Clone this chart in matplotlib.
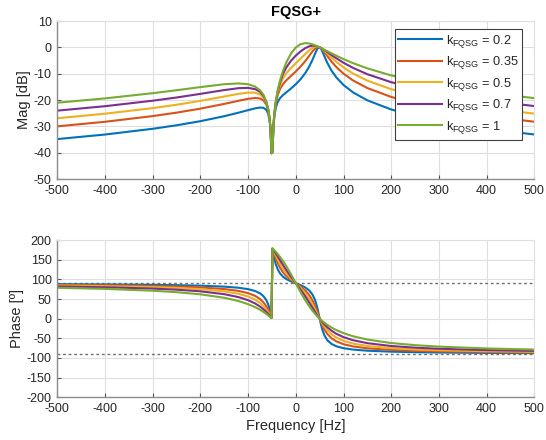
import matplotlib
matplotlib.use('Agg')
import matplotlib.pyplot as plt

plt.rcParams['font.family'] = ['Liberation Sans', 'DejaVu Sans']
plt.rcParams['mathtext.fontset'] = 'custom'
plt.rcParams['mathtext.rm'] = 'Liberation Sans'
plt.rcParams['mathtext.it'] = 'Liberation Sans'
plt.rcParams['axes.unicode_minus'] = False

# frequency points [Hz]
Freq = [-500, -400, -300, -250, -200, -150, -120, -100, -85, -75, -68, -62, -58, -55, -53, -51,
        -49, -47, -45, -42, -38, -33, -27, -20, -10, 0, 10, 20, 28, 35, 40, 44, 47, 49, 50,
        51, 53, 56, 60, 66, 75, 85, 100, 120, 150, 200, 250, 300, 400, 500]

Kvals = ['0.2', '0.35', '0.5', '0.7', '1']

# magnitude [dB]
Mag02 = [-34.81, -33.08, -30.90, -29.57, -28.01, -26.12, -24.78, -23.82, -23.13, -22.84, -22.93, -23.66,
         -25.15, -27.74, -31.32, -40.22, -39.87, -30.32, -26.17, -22.90, -20.70, -19.24, -18.12, -17.06,
         -15.59, -13.98, -12.07, -9.70, -7.29, -4.67, -2.53, -0.92, -0.12, 0.04, 0.00,
         -0.13, -0.60, -1.69, -3.40, -5.86, -8.86, -11.41, -14.28, -17.08, -20.10, -23.57, -26.05,
         -27.98, -30.89, -33.07]
Mag035 = [-29.97, -28.24, -26.08, -24.77, -23.25, -21.45, -20.26, -19.52, -19.20, -19.40, -20.11, -21.69,
          -23.95, -27.16, -31.08, -40.18, -39.83, -30.05, -25.48, -21.40, -18.15, -15.75, -13.96, -12.50,
          -10.79, -9.12, -7.27, -5.14, -3.21, -1.50, -0.48, 0.03, 0.14, 0.08, 0.00,
          -0.10, -0.37, -0.91, -1.81, -3.29, -5.42, -7.47, -9.97, -12.55, -15.43, -18.81, -21.25,
          -23.16, -26.05, -28.22]
Mag05 = [-26.89, -25.18, -23.05, -21.77, -20.30, -18.63, -17.64, -17.16, -17.22, -17.85, -18.99, -21.03,
         -23.60, -27.01, -31.02, -40.18, -39.83, -29.99, -25.30, -20.93, -17.20, -14.17, -11.76, -9.83,
         -7.79, -6.02, -4.27, -2.47, -1.11, -0.16, 0.22, 0.29, 0.21, 0.08, 0.00,
         -0.09, -0.31, -0.70, -1.31, -2.32, -3.87, -5.50, -7.62, -9.93, -12.61, -15.86, -18.25,
         -20.13, -22.99, -25.15]
Mag07 = [-24.01, -22.32, -20.24, -19.02, -17.64, -16.20, -15.48, -15.36, -15.85, -16.88, -18.35, -20.68,
         -23.42, -26.93, -30.99, -40.17, -39.83, -29.95, -25.20, -20.69, -16.67, -13.16, -10.15, -7.62,
         -5.04, -3.10, -1.51, -0.26, 0.41, 0.65, 0.60, 0.43, 0.24, 0.09, 0.00,
         -0.09, -0.28, -0.59, -1.04, -1.77, -2.90, -4.13, -5.82, -7.78, -10.18, -13.21, -15.49,
         -17.32, -20.14, -22.27]
Mag1 = [-21.00, -19.36, -17.38, -16.26, -15.07, -13.98, -13.68, -13.98, -14.90, -16.26, -17.97, -20.48,
        -23.32, -26.89, -30.98, -40.18, -39.82, -29.94, -25.16, -20.56, -16.36, -12.51, -8.97, -5.73,
        -2.28, 0.00, 1.24, 1.63, 1.49, 1.15, 0.81, 0.50, 0.26, 0.09, 0.00,
        -0.09, -0.26, -0.53, -0.90, -1.45, -2.28, -3.17, -4.44, -5.97, -7.96, -10.63, -12.74,
        -14.46, -17.17, -19.26]

# phase [deg]
Ph02 = [87.69, 87.09, 86.08, 85.24, 83.91, 81.47, 78.60, 75.07, 70.21, 64.36, 57.37, 47.31,
        36.68, 25.51, 16.25, 5.65, 174.23, 162.80, 152.18, 138.77, 125.74, 115.07, 106.96, 100.78,
        94.76, 90.0, 85.24, 79.22, 71.93, 61.23, 48.37, 32.66, 17.20, 5.77, 0.0,
        -5.65, -16.25, -29.59, -42.51, -54.58, -64.36, -70.21, -75.07, -78.60, -81.47, -83.91, -85.24,
        -86.08, -87.09, -87.69]
Ph035 = [85.96, 84.92, 83.16, 81.70, 79.43, 75.29, 70.56, 64.98, 57.81, 49.97, 41.74, 31.77,
         23.06, 15.26, 9.46, 3.24, 176.70, 169.97, 163.22, 153.41, 141.55, 129.31, 118.08, 108.43,
         98.30, 90.0, 81.70, 71.57, 60.27, 46.14, 32.74, 20.11, 10.03, 3.30, 0.0,
         -3.24, -9.46, -17.98, -27.65, -38.78, -49.97, -57.81, -64.98, -70.56, -75.29, -79.43, -81.70,
         -83.16, -84.92, -85.96]
Ph05 = [84.23, 82.76, 80.27, 78.23, 75.07, 69.44, 63.24, 56.31, 48.03, 39.81, 31.99, 23.44,
        16.59, 10.81, 6.65, 2.27, 177.69, 172.94, 168.08, 160.69, 150.93, 139.47, 127.32, 115.46,
        101.77, 90.0, 78.23, 64.54, 50.79, 36.08, 24.23, 14.38, 7.06, 2.31, 0.0,
        -2.27, -6.65, -12.80, -20.14, -29.36, -39.81, -48.03, -56.31, -63.24, -69.44, -75.07, -78.23,
        -80.27, -82.76, -84.23]
Ph07 = [81.95, 79.92, 76.50, 73.74, 69.53, 62.30, 54.78, 46.97, 38.46, 30.76, 24.04, 17.21,
        12.00, 7.77, 4.76, 1.62, 178.35, 174.95, 171.43, 165.95, 158.34, 148.58, 136.86, 123.69,
        106.26, 90.0, 73.74, 56.31, 41.20, 27.50, 17.82, 10.38, 5.05, 1.65, 0.0,
        -1.62, -4.76, -9.22, -14.68, -21.89, -30.76, -38.46, -46.97, -54.78, -62.30, -69.53, -73.74,
        -76.50, -79.92, -81.95]
Ph1 = [78.58, 75.75, 71.08, 67.38, 61.93, 53.13, 44.76, 36.87, 29.07, 22.62, 17.35, 12.23,
       8.47, 5.45, 3.34, 1.13, 178.84, 176.46, 173.97, 170.06, 164.47, 156.85, 146.74, 133.60,
       112.62, 90.0, 67.38, 46.40, 31.50, 20.01, 12.68, 7.30, 3.54, 1.16, 0.0,
       -1.13, -3.34, -6.48, -10.39, -15.71, -22.62, -29.07, -36.87, -44.76, -53.13, -61.93, -67.38,
       -71.08, -75.75, -78.58]

MagAll = [Mag02, Mag035, Mag05, Mag07, Mag1]
PhAll = [Ph02, Ph035, Ph05, Ph07, Ph1]

Colors = ['#0072BD', '#D95319', '#EDB120', '#7E2F8E', '#77AC30']
TxtCol = '#262626'
GridCol = '#dfdfdf'

fig = plt.figure(figsize=(5.46, 4.40), dpi=100)
ax1 = fig.add_axes([0.105, 0.593, 0.8736, 0.3591])
ax2 = fig.add_axes([0.105, 0.097, 0.8736, 0.3575])


def StyleAxes(ax):
    ax.grid(True, color=GridCol, linewidth=0.8)
    ax.set_axisbelow(True)
    for s in ['left', 'bottom']:
        ax.spines[s].set_color('#8c8c8c')
        ax.spines[s].set_linewidth(1.0)
    for s in ['top', 'right']:
        ax.spines[s].set_color(GridCol)
        ax.spines[s].set_linewidth(0.8)
    ax.tick_params(direction='in', length=3, width=0.8, color='#555555',
                   labelcolor=TxtCol, labelsize=9, pad=4)
    ax.set_xlim(-500, 500)
    ax.set_xticks(range(-500, 501, 100))


# magnitude plot
for i in range(5):
    ax1.plot(Freq, MagAll[i], color=Colors[i], linewidth=1.5,
             label=r'k$_{\mathrm{FQSG}}$ = ' + Kvals[i])
StyleAxes(ax1)
ax1.set_ylim(-50, 10)
ax1.set_yticks(range(-50, 11, 10))
ax1.set_ylabel('Mag [dB]', fontsize=10.5, color=TxtCol, labelpad=2)
ax1.set_title('FQSG+', fontsize=10.5, fontweight='bold', color='black', pad=4)
leg = ax1.legend(loc='upper right', bbox_to_anchor=(0.975, 0.95), borderaxespad=0,
                 fontsize=9.2, handlelength=3.4, handletextpad=0.3, labelspacing=0.35,
                 fancybox=False, framealpha=1, edgecolor='#404040', borderpad=0.3)
leg.get_frame().set_linewidth(0.8)
for t in leg.get_texts():
    t.set_color(TxtCol)

# phase plot
ax2.axhline(90, color='#707070', linestyle=(0, (2, 2)), linewidth=1.0)
ax2.axhline(-90, color='#707070', linestyle=(0, (2, 2)), linewidth=1.0)
for i in range(5):
    ax2.plot(Freq, PhAll[i], color=Colors[i], linewidth=1.5)
StyleAxes(ax2)
ax2.set_ylim(-200, 200)
ax2.set_yticks(range(-200, 201, 50))
ax2.set_ylabel('Phase [º]', fontsize=10.5, color=TxtCol, labelpad=2)
ax2.set_xlabel('Frequency [Hz]', fontsize=10.5, color=TxtCol, labelpad=3)

fig.savefig('out.png', dpi=100)
